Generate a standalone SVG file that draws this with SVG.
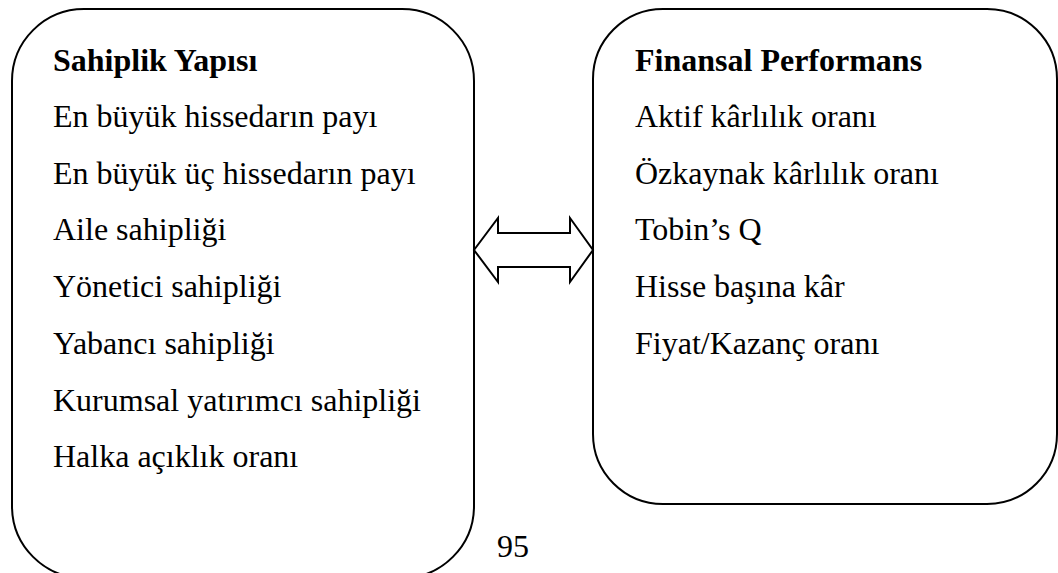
<svg xmlns="http://www.w3.org/2000/svg" width="1058" height="573" viewBox="0 0 1058 573">
<style>
.box{fill:#fff;stroke:#000;stroke-width:2}
.t{font-size:32px;fill:#000}
.b{font-weight:bold}
.arrow{fill:#fff;stroke:#000;stroke-width:2;stroke-linejoin:miter}
</style>
<rect width="1058" height="573" fill="#fff"/>
<g font-family="'Times New Roman', 'Liberation Serif', Tinos, 'DejaVu Serif', serif">
<g id="sahiplik">
<rect class="box" x="12" y="9" width="462" height="569" rx="72" ry="72"/>
<text class="t b" x="53" y="71">Sahiplik Yapısı</text>
<text class="t" x="53" y="127">En büyük hissedarın payı</text>
<text class="t" x="53" y="184">En büyük üç hissedarın payı</text>
<text class="t" x="53" y="240">Aile sahipliği</text>
<text class="t" x="53" y="297">Yönetici sahipliği</text>
<text class="t" x="53" y="354">Yabancı sahipliği</text>
<text class="t" x="53" y="411">Kurumsal yatırımcı sahipliği</text>
<text class="t" x="53" y="467">Halka açıklık oranı</text>
</g>
<g id="finansal">
<rect class="box" x="593" y="9" width="464" height="495" rx="70" ry="70"/>
<text class="t b" x="635" y="71">Finansal Performans</text>
<text class="t" x="635" y="127">Aktif kârlılık oranı</text>
<text class="t" x="635" y="184">Özkaynak kârlılık oranı</text>
<text class="t" x="635" y="240">Tobin’s Q</text>
<text class="t" x="635" y="297">Hisse başına kâr</text>
<text class="t" x="635" y="354">Fiyat/Kazanç oranı</text>
</g>
<g id="connectors">
<path class="arrow" d="M474,250 L498,218 L498,233 L570,233 L570,218 L593,250 L570,282 L570,267 L498,267 L498,282 Z"/>
</g>
<text id="page" class="t" x="497" y="557">95</text>
</g>
</svg>
